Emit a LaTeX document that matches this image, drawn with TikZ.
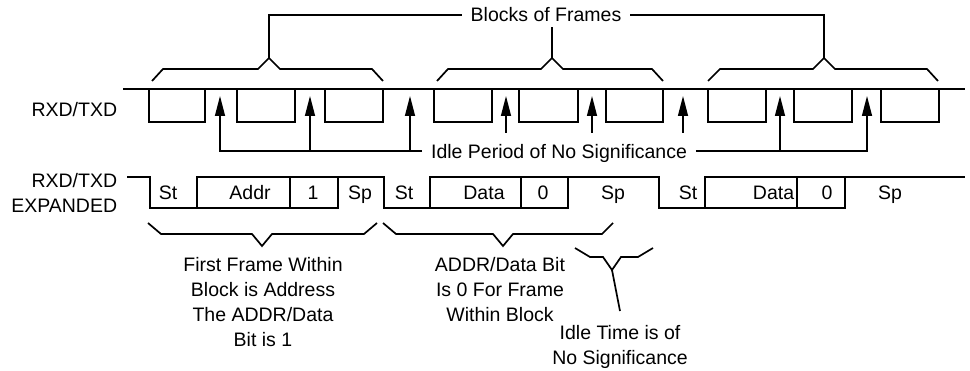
\documentclass[tikz,border=0pt]{standalone}
\usepackage{fontspec}
\setmainfont{Liberation Sans}
\usetikzlibrary{arrows.meta}

\begin{document}
\begin{tikzpicture}[x=1pt, y=-1pt, line width=1.7pt,
  every node/.style={font=\fontsize{19.5}{25}\selectfont, inner sep=0pt},
  idlearrow/.style={-{Triangle[length=20pt, width=10pt]}, line width=1.4pt}]
  \useasboundingbox (0,0) rectangle (970,371);

  % Signal labels
  \node[anchor=base east] (rxd) at (118,117) {RXD/TXD};
  \node[anchor=base east, align=right] (rxdexp) at (118,213) {RXD/TXD\\EXPANDED};

  % Line with the frames hanging off it
  \draw (123,89) -- (965,89);
  \draw (149,89) rectangle (205,122)
        (237,89) rectangle (295,122)
        (325,89) rectangle (383,122)
        (434,89) rectangle (492,122)
        (519,89) rectangle (578,122)
        (606,89) rectangle (663,122)
        (708,89) rectangle (766,122)
        (794,89) rectangle (852,122)
        (881,89) rectangle (939,122);

  % Braces over the blocks
  \coordinate (b1) at (269,58);
  \coordinate (b2) at (552,58);
  \coordinate (b3) at (824,58);
  \draw (152,81) -- (163,69) -- (258,69) -- (b1) -- (280,69) -- (372,69) -- (383,81);
  \draw (437,81) -- (448,69) -- (541,69) -- (b2) -- (563,69) -- (652,69) -- (663,81);
  \draw (708,81) -- (720,69) -- (813,69) -- (b3) -- (835,69) -- (927,69) -- (938,81);

  % Blocks of Frames
  \node[inner xsep=8pt, inner ysep=4pt, anchor=base] (blocks) at (546,22) {Blocks of Frames};
  \draw (blocks.west) -| (b1);
  \draw (blocks.south -| b2) -- (b2);
  \draw (blocks.east) -| (b3);

  % Idle period arrows
  \node[inner xsep=8pt, text depth=0pt] (idle) at (559,151) {Idle Period of No Significance};
  \coordinate (t1) at (220,96);
  \coordinate (t2) at (310,96);
  \coordinate (t3) at (410,96);
  \coordinate (t4) at (506,96);
  \coordinate (t5) at (592,96);
  \coordinate (t6) at (683,96);
  \coordinate (t7) at (780,96);
  \coordinate (t8) at (867,96);
  \coordinate (s4) at (506,133);
  \coordinate (s5) at (592,133);
  \coordinate (s6) at (683,133);
  \draw[idlearrow] (idle.west) -| (t1);
  \draw[idlearrow] (idle.west -| t2) -- (t2);
  \draw[idlearrow] (idle.west -| t3) -- (t3);
  \draw[idlearrow] (s4) -- (t4);
  \draw[idlearrow] (s5) -- (t5);
  \draw[idlearrow] (s6) -- (t6);
  \draw[idlearrow] (idle.east -| t7) -- (t7);
  \draw[idlearrow] (idle.east) -| (t8);

  % Expanded waveform
  \draw (127,177) -- (150,177) -- (150,208) -- (197,208) -- (197,177) -- (384,177)
        -- (384,208) -- (430,208) -- (430,177) -- (659,177) -- (659,208) -- (705,208)
        -- (705,177) -- (965,177);
  \draw (197,208) -- (338,208) -- (338,177) (290,177) -- (290,208);
  \draw (430,208) -- (568,208) -- (568,177) (521,177) -- (521,208);
  \draw (705,208) -- (845,208) -- (845,177) (797,177) -- (797,208);

  % Bit labels
  \node[anchor=base] (st1) at (168,200) {St};
  \node[anchor=base] (addr) at (250,200) {Addr};
  \node[anchor=base] (one) at (313,200) {1};
  \node[anchor=base] (sp1) at (360,200) {Sp};
  \node[anchor=base] (st2) at (404,200) {St};
  \node[anchor=base] (data1) at (484,200) {Data};
  \node[anchor=base] (zero1) at (543,200) {0};
  \node[anchor=base] (sp2) at (613,200) {Sp};
  \node[anchor=base] (st3) at (688,200) {St};
  \node[anchor=base east] (data2) at (795,200) {Data};
  \node[anchor=base] (zero2) at (827,200) {0};
  \node[anchor=base] (sp3) at (890,200) {Sp};

  % Braces under the frames
  \coordinate (c1) at (262,246);
  \coordinate (c2) at (503,246);
  \coordinate (c3) at (612,270);
  \draw (148,223) -- (161,234) -- (252,234) -- (c1) -- (272,234) -- (364,234) -- (377,223);
  \draw (383,223) -- (396,234) -- (493,234) -- (c2) -- (513,234) -- (602,234) -- (613,223);
  \draw (575,248) -- (590,257) -- (603,257) -- (c3) -- (621,257) -- (638,257) -- (653,248);

  % Notes
  \node[align=center, anchor=base] (firstframe) at (263,347)
    {First Frame Within\\Block is Address\\The ADDR/Data\\Bit is 1};
  \node[align=center, anchor=base] (databit) at (500,322)
    {ADDR/Data Bit\\Is 0 For Frame\\Within Block};
  \node[align=center, anchor=base] (idletime) at (620,365)
    {Idle Time is of\\No Significance};
  \draw (c3) -- ([yshift=14pt]idletime.north);
\end{tikzpicture}
\end{document}
